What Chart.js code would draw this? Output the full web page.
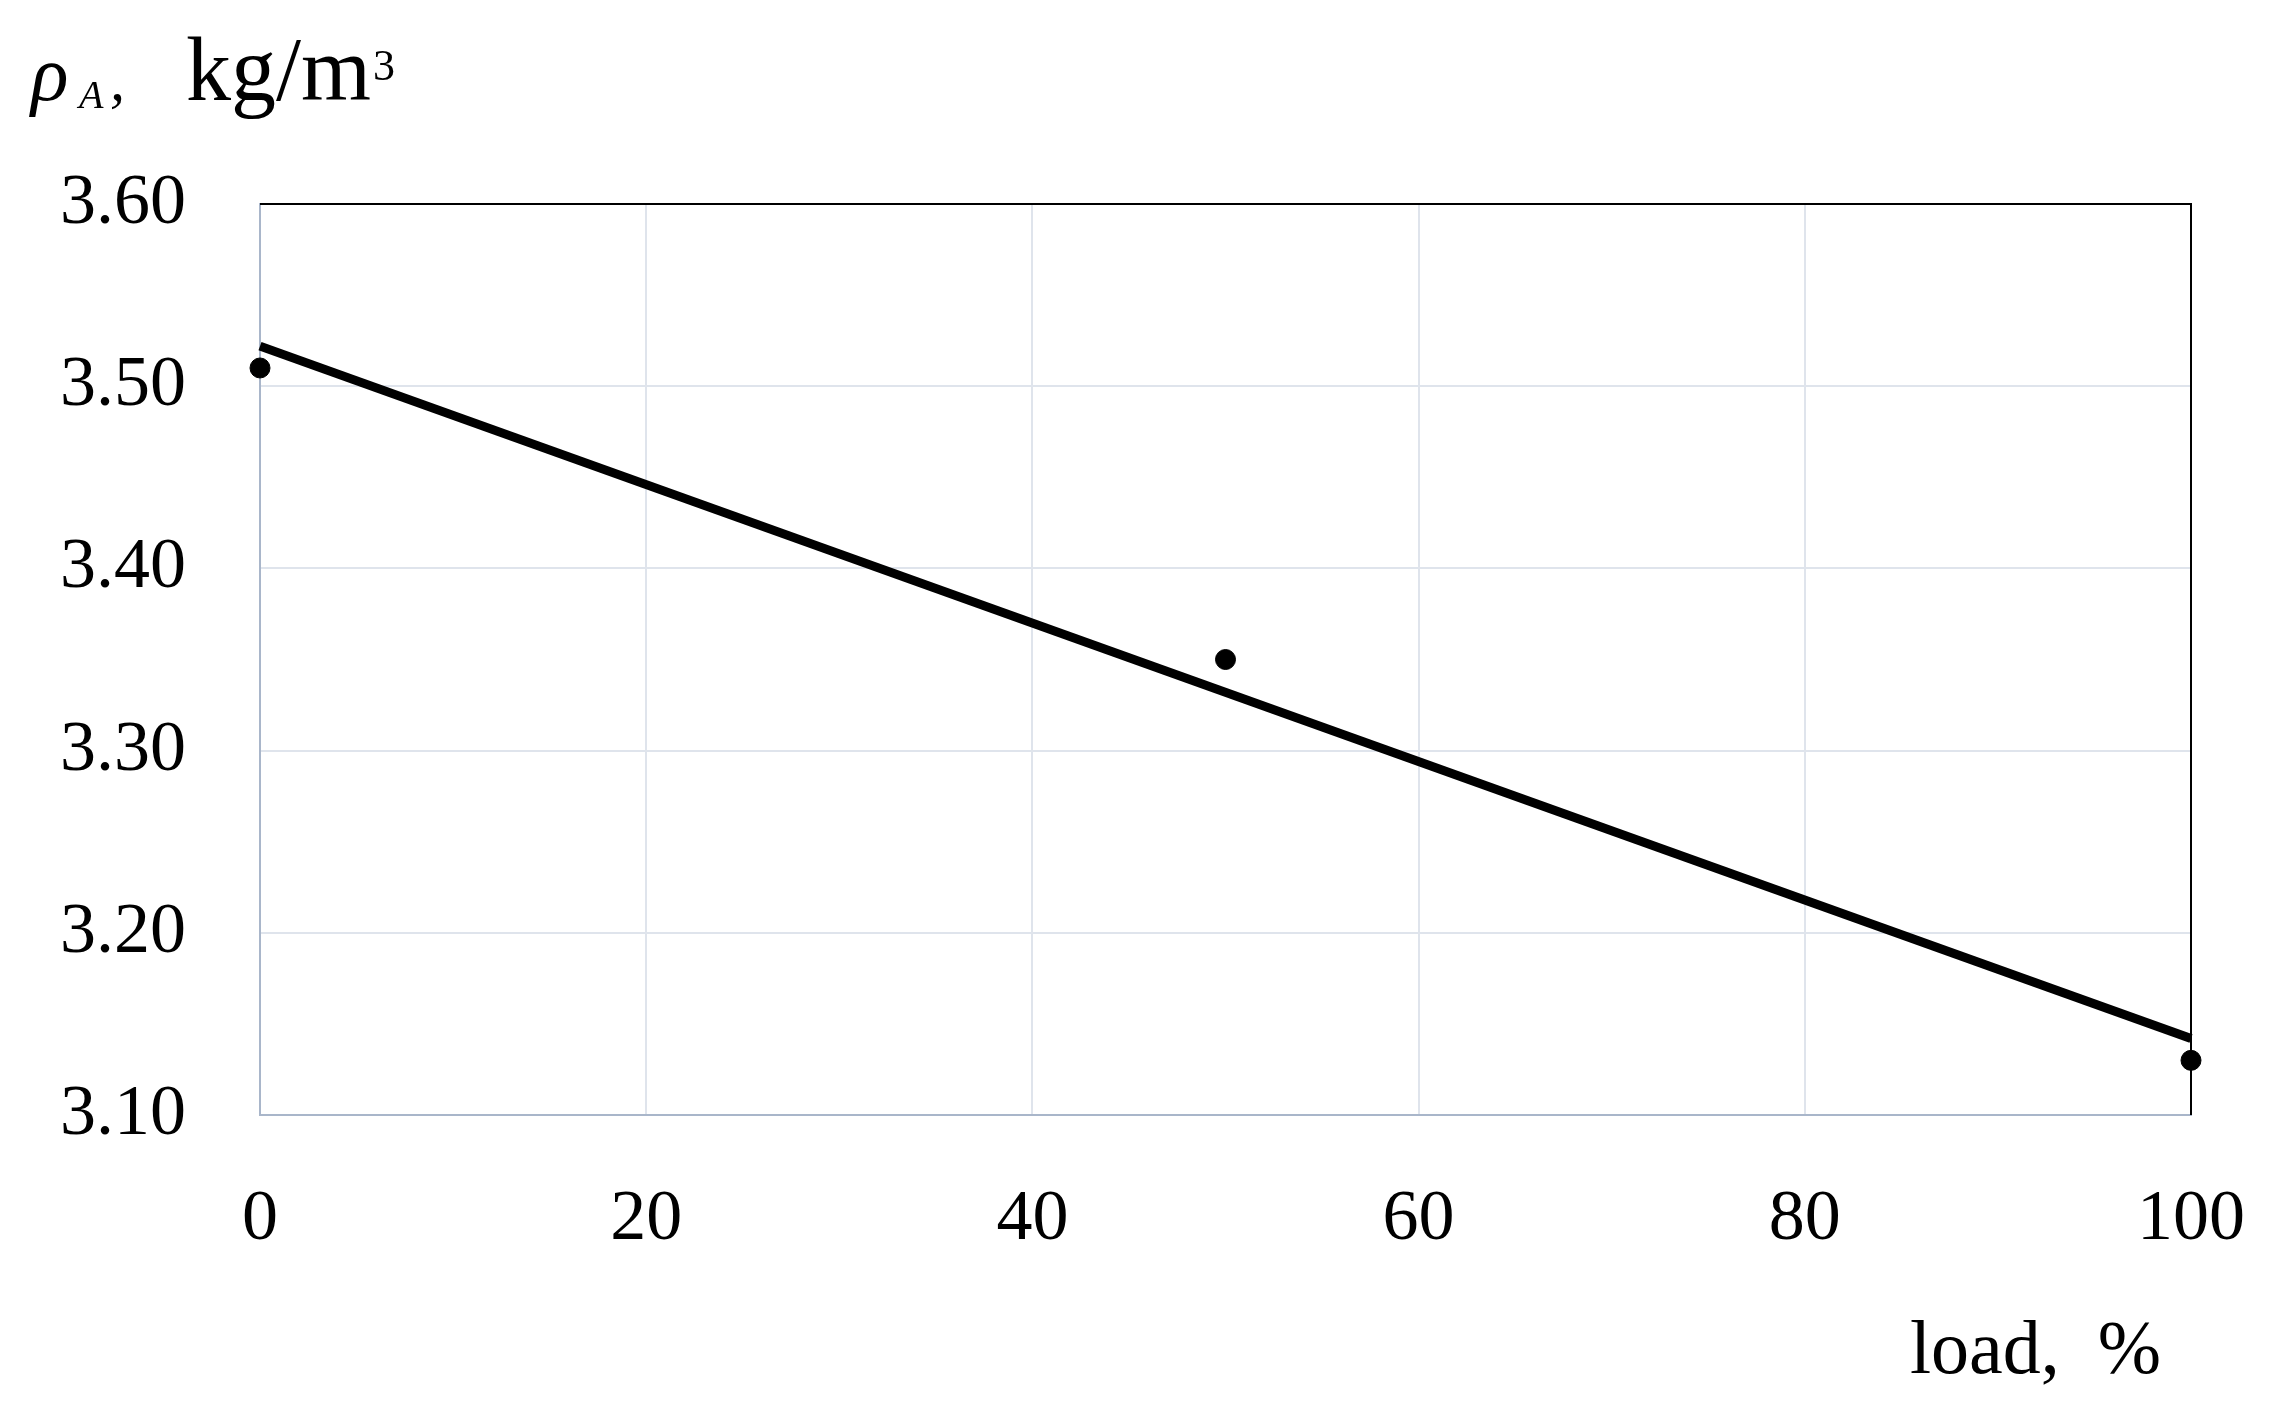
<!DOCTYPE html>
<html>
<head>
<meta charset="utf-8">
<script src="https://cdn.jsdelivr.net/npm/chart.js@4"></script>
<style>
  html, body { margin: 0; padding: 0; background: #fff; }
  #wrap { width: 2277px; height: 1415px; }
</style>
</head>
<body>
<div id="wrap"><canvas id="density-chart" width="2277" height="1415"></canvas></div>
<script>
// measured points
const loadValues = [0, 50, 100];
const densityValues = [3.51, 3.35, 3.13];
// trend line end points
const trendLoad = [0, 100];
const trendDensity = [3.522, 3.142];
const xTicks = [0, 20, 40, 60, 80, 100];
const yTicks = [3.10, 3.20, 3.30, 3.40, 3.50, 3.60];

const serif = "'Liberation Serif', 'DejaVu Serif', serif";

const axisTitles = {
    id: 'axisTitles',
    afterDraw(chart) {
        const ctx = chart.ctx;
        const area = chart.chartArea;
        ctx.save();
        // top and right frame lines
        ctx.strokeStyle = '#000';
        ctx.lineWidth = 2;
        ctx.beginPath();
        ctx.moveTo(area.left, area.top);
        ctx.lineTo(area.right, area.top);
        ctx.lineTo(area.right, area.bottom);
        ctx.stroke();

        ctx.fillStyle = '#000';
        ctx.textBaseline = 'alphabetic';
        ctx.textAlign = 'left';
        // y title
        ctx.font = 'italic 78px ' + serif;
        ctx.fillText('ρ', 31, 100);
        ctx.font = 'italic 40px ' + serif;
        ctx.fillText('A', 79, 108);
        ctx.font = 'italic 60px ' + serif;
        ctx.fillText(',', 110, 100);
        ctx.font = '90px ' + serif;
        ctx.fillText('kg/m', 186, 100);
        const w = ctx.measureText('kg/m').width;
        ctx.font = '44px ' + serif;
        ctx.fillText('3', 186 + w + 2, 80);
        // x title
        ctx.font = '76px ' + serif;
        ctx.fillText('load,  %', 1910, 1373);
        ctx.restore();
    }
};

const config = {
    type: 'scatter',
    data: {
        datasets: [{
            label: 'trend',
            type: 'line',
            data: trendLoad.map((x, i) => ({ x: x, y: trendDensity[i] })),
            borderColor: '#000',
            borderWidth: 9,
            pointRadius: 0,
            fill: false,
            clip: false,
            order: 2
        }, {
            label: 'measured',
            data: loadValues.map((x, i) => ({ x: x, y: densityValues[i] })),
            backgroundColor: '#000',
            borderColor: '#000',
            pointRadius: 10,
            clip: false,
            order: 1
        }]
    },
    options: {
        responsive: false,
        animation: false,
        layout: {
            padding: { left: 0, top: 204, right: 86, bottom: 0 }
        },
        plugins: {
            legend: { display: false },
            tooltip: { enabled: false }
        },
        scales: {
            x: {
                type: 'linear',
                min: 0,
                max: 100,
                afterFit: s => {
                    s.height = 300;
                    s.paddingLeft = 0;
                    s.paddingRight = 0;
                },
                afterBuildTicks: s => { s.ticks = xTicks.map(v => ({ value: v })); },
                grid: { color: '#dfe4ec', lineWidth: 2, drawTicks: false },
                border: { color: '#a9b6ca', width: 2 },
                ticks: {
                    padding: 62,
                    color: '#000',
                    font: { family: serif, size: 72 }
                }
            },
            y: {
                min: 3.1,
                max: 3.6,
                afterFit: s => {
                    s.width = 260;
                    s.paddingTop = 0;
                    s.paddingBottom = 0;
                },
                afterBuildTicks: s => { s.ticks = yTicks.map(v => ({ value: v })); },
                grid: { color: '#dfe4ec', lineWidth: 2, drawTicks: false },
                border: { color: '#a9b6ca', width: 2 },
                ticks: {
                    padding: 74,
                    color: '#000',
                    font: { family: serif, size: 72 },
                    callback: v => v.toFixed(2)
                }
            }
        }
    },
    plugins: [axisTitles]
};

new Chart(document.getElementById('density-chart'), config);
</script>
</body>
</html>
